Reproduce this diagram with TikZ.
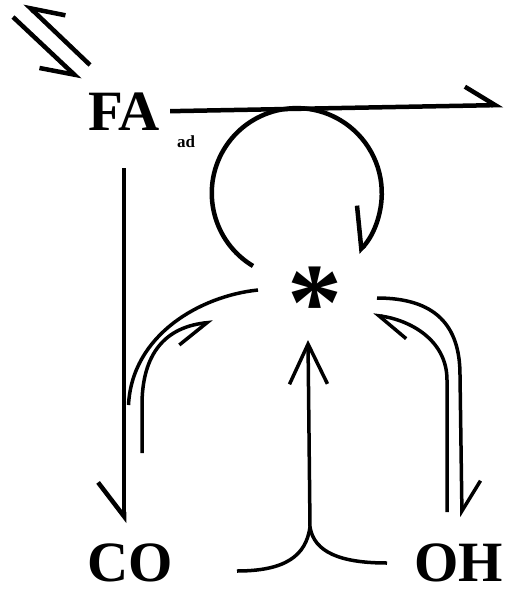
\documentclass[tikz,border=0pt]{standalone}
\usepackage{fontspec}
\setmainfont{Liberation Serif}
\usetikzlibrary{arrows.meta}

\begin{document}
\begin{tikzpicture}[x=1pt, y=-1pt,
  chem/.style={font=\bfseries\fontsize{57}{57}\selectfont, inner sep=0pt},
  mainline/.style={line width=4.5pt},
  sideline/.style={line width=3.5pt},
  harpL/.style={-{Straight Barb[harpoon, length=30pt, width=38pt]}},
  harpR/.style={-{Straight Barb[harpoon, swap, length=30pt, width=38pt]}},
  harpRw/.style={-{Straight Barb[harpoon, swap, length=34pt, width=52pt]}},
  harpLoop/.style={-{Straight Barb[harpoon, swap, length=28pt, width=66pt]}},
  openhead/.style={-{Straight Barb[length=40pt, width=38pt]}}
]
\useasboundingbox (0,0) rectangle (505,592);

%% species and surface site
\node[chem, anchor=base west] (FA) at (88,130) {FA};
\node[font=\bfseries\fontsize{17}{17}\selectfont, inner sep=0pt, anchor=north west] (ad) at (177,136) {ad};
\node[chem, anchor=base] (CO) at (130,581) {CO};
\node[chem, anchor=base west] (OH) at (414,581) {OH};
\node[font=\bfseries\fontsize{110}{110}\selectfont, inner sep=0pt, anchor=base] (site) at (315,339) {*};

%% free ends of the connectors
\coordinate (inA)   at (13,17);
\coordinate (inB)   at (80,80);
\coordinate (outA)  at (90,65);
\coordinate (outB)  at (25,3);
\coordinate (far)   at (503,105);
\coordinate (loopA) at (253,266);
\coordinate (coOut) at (258,290);
\coordinate (coIn)  at (142,453);
\coordinate (coTip) at (213,322);
\coordinate (ohOut) at (377,298);
\coordinate (ohTip) at (462,517);
\coordinate (ohIn)  at (447,512);
\coordinate (ohEnd) at (373,315);
\coordinate (feedL) at (237,571);
\coordinate (feedR) at (387,563);
\coordinate (join)  at (310,527);
\coordinate (upTip) at (308,340);

%% adsorption equilibrium
\draw[mainline, harpR] (inA) -- (inB);
\draw[mainline, harpR] (outA) -- (outB);

%% main paths of FA
\draw[mainline, harpL] ([xshift=10pt]FA.east) -- (far);
\draw[mainline, harpRw] ([yshift=-38pt]FA.south) -- ([yshift=20pt]FA.south |- CO.north);

%% loop over the site
\draw[mainline, harpLoop] (loopA) arc[start angle=121, end angle=404, radius=85];

%% CO <-> *
\draw[sideline] (coOut) .. controls (200,296) and (132,335) .. (128.5,405);
\draw[sideline, harpR] (coIn) -- (142,405) .. controls (142,360) and (160,328) .. (coTip);

%% OH <-> *
\draw[sideline, harpL] (ohOut) .. controls (435,298) and (460,325) .. (460,375) -- (ohTip);
\draw[sideline, harpL] (ohIn) -- (447,380) .. controls (447,340) and (410,320) .. (ohEnd);

%% CO + OH -> *
\draw[sideline] (feedL) .. controls (285,571) and (306,556) .. (join);
\draw[sideline] (feedR) .. controls (340,563) and (314,552) .. (join);
\draw[sideline, openhead] (join) -- (upTip);

\end{tikzpicture}
\end{document}
